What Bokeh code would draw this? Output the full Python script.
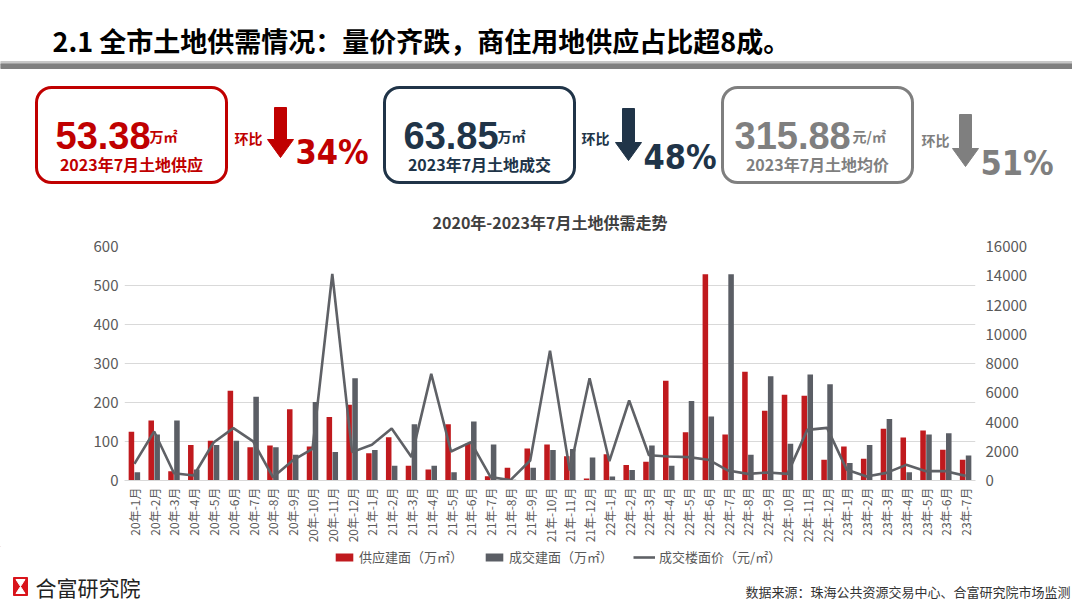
import math
from bokeh.plotting import figure
from bokeh.models import (ColumnDataSource, FactorRange, Range1d, LinearAxis, FixedTicker,
                          Legend, LegendItem, BoxAnnotation)
from bokeh.transform import dodge
from bokeh.core.properties import value
from bokeh.layouts import column
from bokeh.embed import file_html
from bokeh.resources import INLINE

# ---------------- data ----------------
months = ([f"{y}年-{m}月" for y in ["20", "21", "22"] for m in range(1, 13)]
          + [f"23年-{m}月" for m in range(1, 8)])

supply = [125, 154, 24, 91, 102, 230, 85, 90, 183, 87, 163, 194,
          70, 111, 38, 28, 144, 94, 11, 33, 82, 92, 62, 5,
          67, 40, 48, 256, 124, 529, 118, 279, 179, 220, 217, 53,
          87, 56, 133, 110, 128, 79, 53.38]
deal = [21, 118, 154, 28, 91, 102, 215, 85, 66, 201, 73, 262,
        78, 38, 144, 38, 21, 151, 92, 2, 33, 78, 81, 59,
        10, 27, 90, 38, 204, 164, 529, 66, 267, 94, 272, 247,
        45, 91, 158, 21, 118, 121, 63.85]
price = [1140, 3350, 500, 340, 2600, 3580, 2670, 230, 1370, 2160, 14120, 1940,
         2440, 3550, 1600, 7290, 1980, 2620, 230, 30, 1370, 8880, 680, 6990,
         1320, 5470, 1730, 1640, 1600, 1420, 680, 455, 550, 455, 3460, 3600,
         730, 270, 520, 1070, 640, 640, 316]

left_ticks = [0, 100, 200, 300, 400, 500, 600]
right_ticks = [0, 2000, 4000, 6000, 8000, 10000, 12000, 14000, 16000]

series_names = ["供应建面（万㎡）", "成交建面（万㎡）", "成交楼面价（元/㎡）"]

page_title = "2.1 全市土地供需情况：量价齐跌，商住用地供应占比超8成。"
chart_title = "2020年-2023年7月土地供需走势"

kpi_values = ["53.38", "63.85", "315.88"]
kpi_units = ["万㎡", "万㎡", "元/㎡"]
kpi_captions = ["2023年7月土地供应", "2023年7月土地成交", "2023年7月土地均价"]
kpi_changes = ["34%", "48%", "51%"]
kpi_label = "环比"

source_note = "数据来源：珠海公共资源交易中心、合富研究院市场监测"
brand = "合富研究院"

# ---------------- style ----------------
RED = "#C00000"
NAVY = "#203448"
GREY = "#7F7F7F"
BAR_RED = "#C01A1E"
BAR_GREY = "#5B5E65"
LINE_GREY = "#5F6166"
kpi_colors = [RED, NAVY, GREY]
CJK = "Noto Sans CJK SC"
NUMF = "Liberation Sans, Arial, sans-serif"
COND = "DejaVu Sans Condensed, DejaVu Sans, sans-serif"

W = 1072
H_HEAD = 192
H_CHART = 354
H_FOOT = 54
FRAME_L, FRAME_R, FRAME_T, FRAME_B = 124, 975, 246, 480

# ---------------- header ----------------
head = figure(width=W, height=H_HEAD, x_range=Range1d(0, W), y_range=Range1d(H_HEAD, 0),
              output_backend="svg", toolbar_location=None, x_axis_type=None, y_axis_type=None,
              min_border=0, outline_line_color=None)
head.frame_align = False
head.xgrid.visible = False
head.ygrid.visible = False

head.text(x=[52], y=[40], text=[page_title], text_font=value(CJK), text_font_style="bold",
          text_font_size="27px", text_color="#000000", text_baseline="middle", text_align="left")
head.quad(left=[0], right=[W], top=[61], bottom=[63.5], color="#C8C8C8")
head.quad(left=[0], right=[W], top=[63.5], bottom=[68], color="#808080")

box_left = [36, 384, 722]
box_w = 190
value_x = [55, 403, 734]
unit_x = [149, 497, 852]
hb_x = [234, 581, 921]
hb_y = [137, 137, 139]
arrow_cx = [280, 628, 965]
arrow_top = [107, 108, 114]
arrow_head = [139, 142, 148]
arrow_tip = [157, 160, 166]
chg_x = [295, 643, 980]
chg_y = [151, 156, 162]

for i in range(3):
    c = kpi_colors[i]
    head.add_layout(BoxAnnotation(left=box_left[i], right=box_left[i] + box_w, top=87, bottom=182,
                                  fill_color=None, line_color=c, line_alpha=1.0, line_width=3,
                                  border_radius=15))
    head.text(x=[value_x[i]], y=[135], text=[kpi_values[i]], text_font=value(NUMF),
              text_font_style="bold", text_font_size="38px", text_color=c,
              text_baseline="alphabetic", text_align="left")
    head.text(x=[unit_x[i]], y=[135], text=[kpi_units[i]], text_font=value(CJK),
              text_font_style="bold", text_font_size="14px", text_color=c,
              text_baseline="alphabetic", text_align="left")
    head.text(x=[box_left[i] + box_w / 2], y=[163], text=[kpi_captions[i]], text_font=value(CJK),
              text_font_style="bold", text_font_size="16px", text_color=c,
              text_baseline="middle", text_align="center")
    head.text(x=[hb_x[i]], y=[hb_y[i]], text=[kpi_label], text_font=value(CJK),
              text_font_style="bold", text_font_size="14px", text_color=c,
              text_baseline="middle", text_align="left")
    cx = arrow_cx[i]
    head.patch(x=[cx - 6, cx + 6, cx + 6, cx + 13, cx, cx - 13, cx - 6],
               y=[arrow_top[i], arrow_top[i], arrow_head[i], arrow_head[i], arrow_tip[i],
                  arrow_head[i], arrow_head[i]],
               fill_color=c, line_color=c)
    head.text(x=[chg_x[i]], y=[chg_y[i]], text=[kpi_changes[i]], text_font=value(COND),
              text_font_style="bold", text_font_size="34px", text_color=c,
              text_baseline="alphabetic", text_align="left")

# ---------------- chart ----------------
src = ColumnDataSource(dict(month=months, supply=supply, deal=deal, price=price))
p = figure(width=W, height=H_CHART, x_range=FactorRange(factors=months), y_range=Range1d(0, 600),
           output_backend="svg", toolbar_location=None,
           min_border_left=FRAME_L, min_border_right=W - FRAME_R,
           min_border_top=FRAME_T - H_HEAD, min_border_bottom=H_HEAD + H_CHART - FRAME_B)
p.frame_align = False
p.extra_y_ranges = {"price": Range1d(0, 16000)}
p.outline_line_color = None

r1 = p.vbar(x=dodge("month", -0.15, range=p.x_range), top="supply", width=0.28, source=src,
            fill_color=BAR_RED, line_color=None)
r2 = p.vbar(x=dodge("month", 0.15, range=p.x_range), top="deal", width=0.28, source=src,
            fill_color=BAR_GREY, line_color=None)
r3 = p.line(x="month", y="price", y_range_name="price", source=src,
            line_color=LINE_GREY, line_width=2.6)

p.title.text = chart_title
p.title.align = "center"
p.title.text_font = CJK
p.title.text_font_size = "16px"
p.title.text_font_style = "bold"
p.title.text_color = "#404040"
p.title.standoff = 25

p.xgrid.grid_line_color = None
p.ygrid.grid_line_color = "#D9D9D9"
p.ygrid.ticker = FixedTicker(ticks=left_ticks)

yl = p.yaxis[0]
yl.ticker = FixedTicker(ticks=left_ticks)
yr = LinearAxis(y_range_name="price", ticker=FixedTicker(ticks=right_ticks))
p.add_layout(yr, "right")
for ax in (yl, yr):
    ax.axis_line_color = None
    ax.major_tick_line_color = None
    ax.minor_tick_line_color = None
    ax.major_tick_out = 0
    ax.major_tick_in = 0
    ax.major_label_text_font = CJK
    ax.major_label_text_font_size = "15px"
    ax.major_label_text_color = "#595959"
yl.major_label_standoff = 6
yr.major_label_standoff = 10

xa = p.xaxis[0]
xa.axis_line_color = "#D9D9D9"
xa.major_tick_line_color = None
xa.minor_tick_line_color = None
xa.major_tick_out = 0
xa.major_tick_in = 0
xa.major_label_orientation = math.pi / 2
xa.major_label_text_font = CJK
xa.major_label_text_font_size = "12px"
xa.major_label_text_color = "#595959"
xa.major_label_standoff = 7

# ---------------- footer (legend + credits) ----------------
foot = figure(width=W, height=H_FOOT, x_range=Range1d(0, W),
              y_range=Range1d(H_HEAD + H_CHART + H_FOOT, H_HEAD + H_CHART),
              output_backend="svg", toolbar_location=None, x_axis_type=None, y_axis_type=None,
              min_border=0, outline_line_color=None)
foot.frame_align = False
foot.xgrid.visible = False
foot.ygrid.visible = False

# legend key renderers (placed off-frame, used only for the legend keys)
k1 = foot.vbar(x=[-500], top=[0], width=1, fill_color=BAR_RED, line_color=None)
k2 = foot.vbar(x=[-500], top=[0], width=1, fill_color=BAR_GREY, line_color=None)
k3 = foot.line(x=[-500, -499], y=[0, 0], line_color=LINE_GREY, line_width=2.6)
legend = Legend(items=[LegendItem(label=series_names[0], renderers=[k1]),
                       LegendItem(label=series_names[1], renderers=[k2]),
                       LegendItem(label=series_names[2], renderers=[k3])],
                orientation="horizontal", location=(333, 34), border_line_color=None,
                background_fill_alpha=0, margin=0, padding=2, spacing=20,
                glyph_width=22, glyph_height=10, label_standoff=4,
                label_text_font=CJK, label_text_font_size="13px", label_text_color="#595959")
foot.add_layout(legend)

foot.quad(left=[13], right=[27], top=[577], bottom=[595], color="#D9141B")
foot.patch(x=[15.5, 24.5, 20, 24.5, 15.5, 20], y=[579, 579, 586, 593, 593, 586],
           fill_color="white", line_color="white")
foot.text(x=[35], y=[586], text=[brand], text_font=value(CJK), text_font_size="21px",
          text_color="#222222", text_baseline="middle", text_align="left")
foot.text(x=[1070], y=[591], text=[source_note], text_font=value(CJK), text_font_size="13px",
          text_color="#333333", text_baseline="middle", text_align="right")

layout = column(head, p, foot)
open("out.html", "w").write(file_html(layout, INLINE))
